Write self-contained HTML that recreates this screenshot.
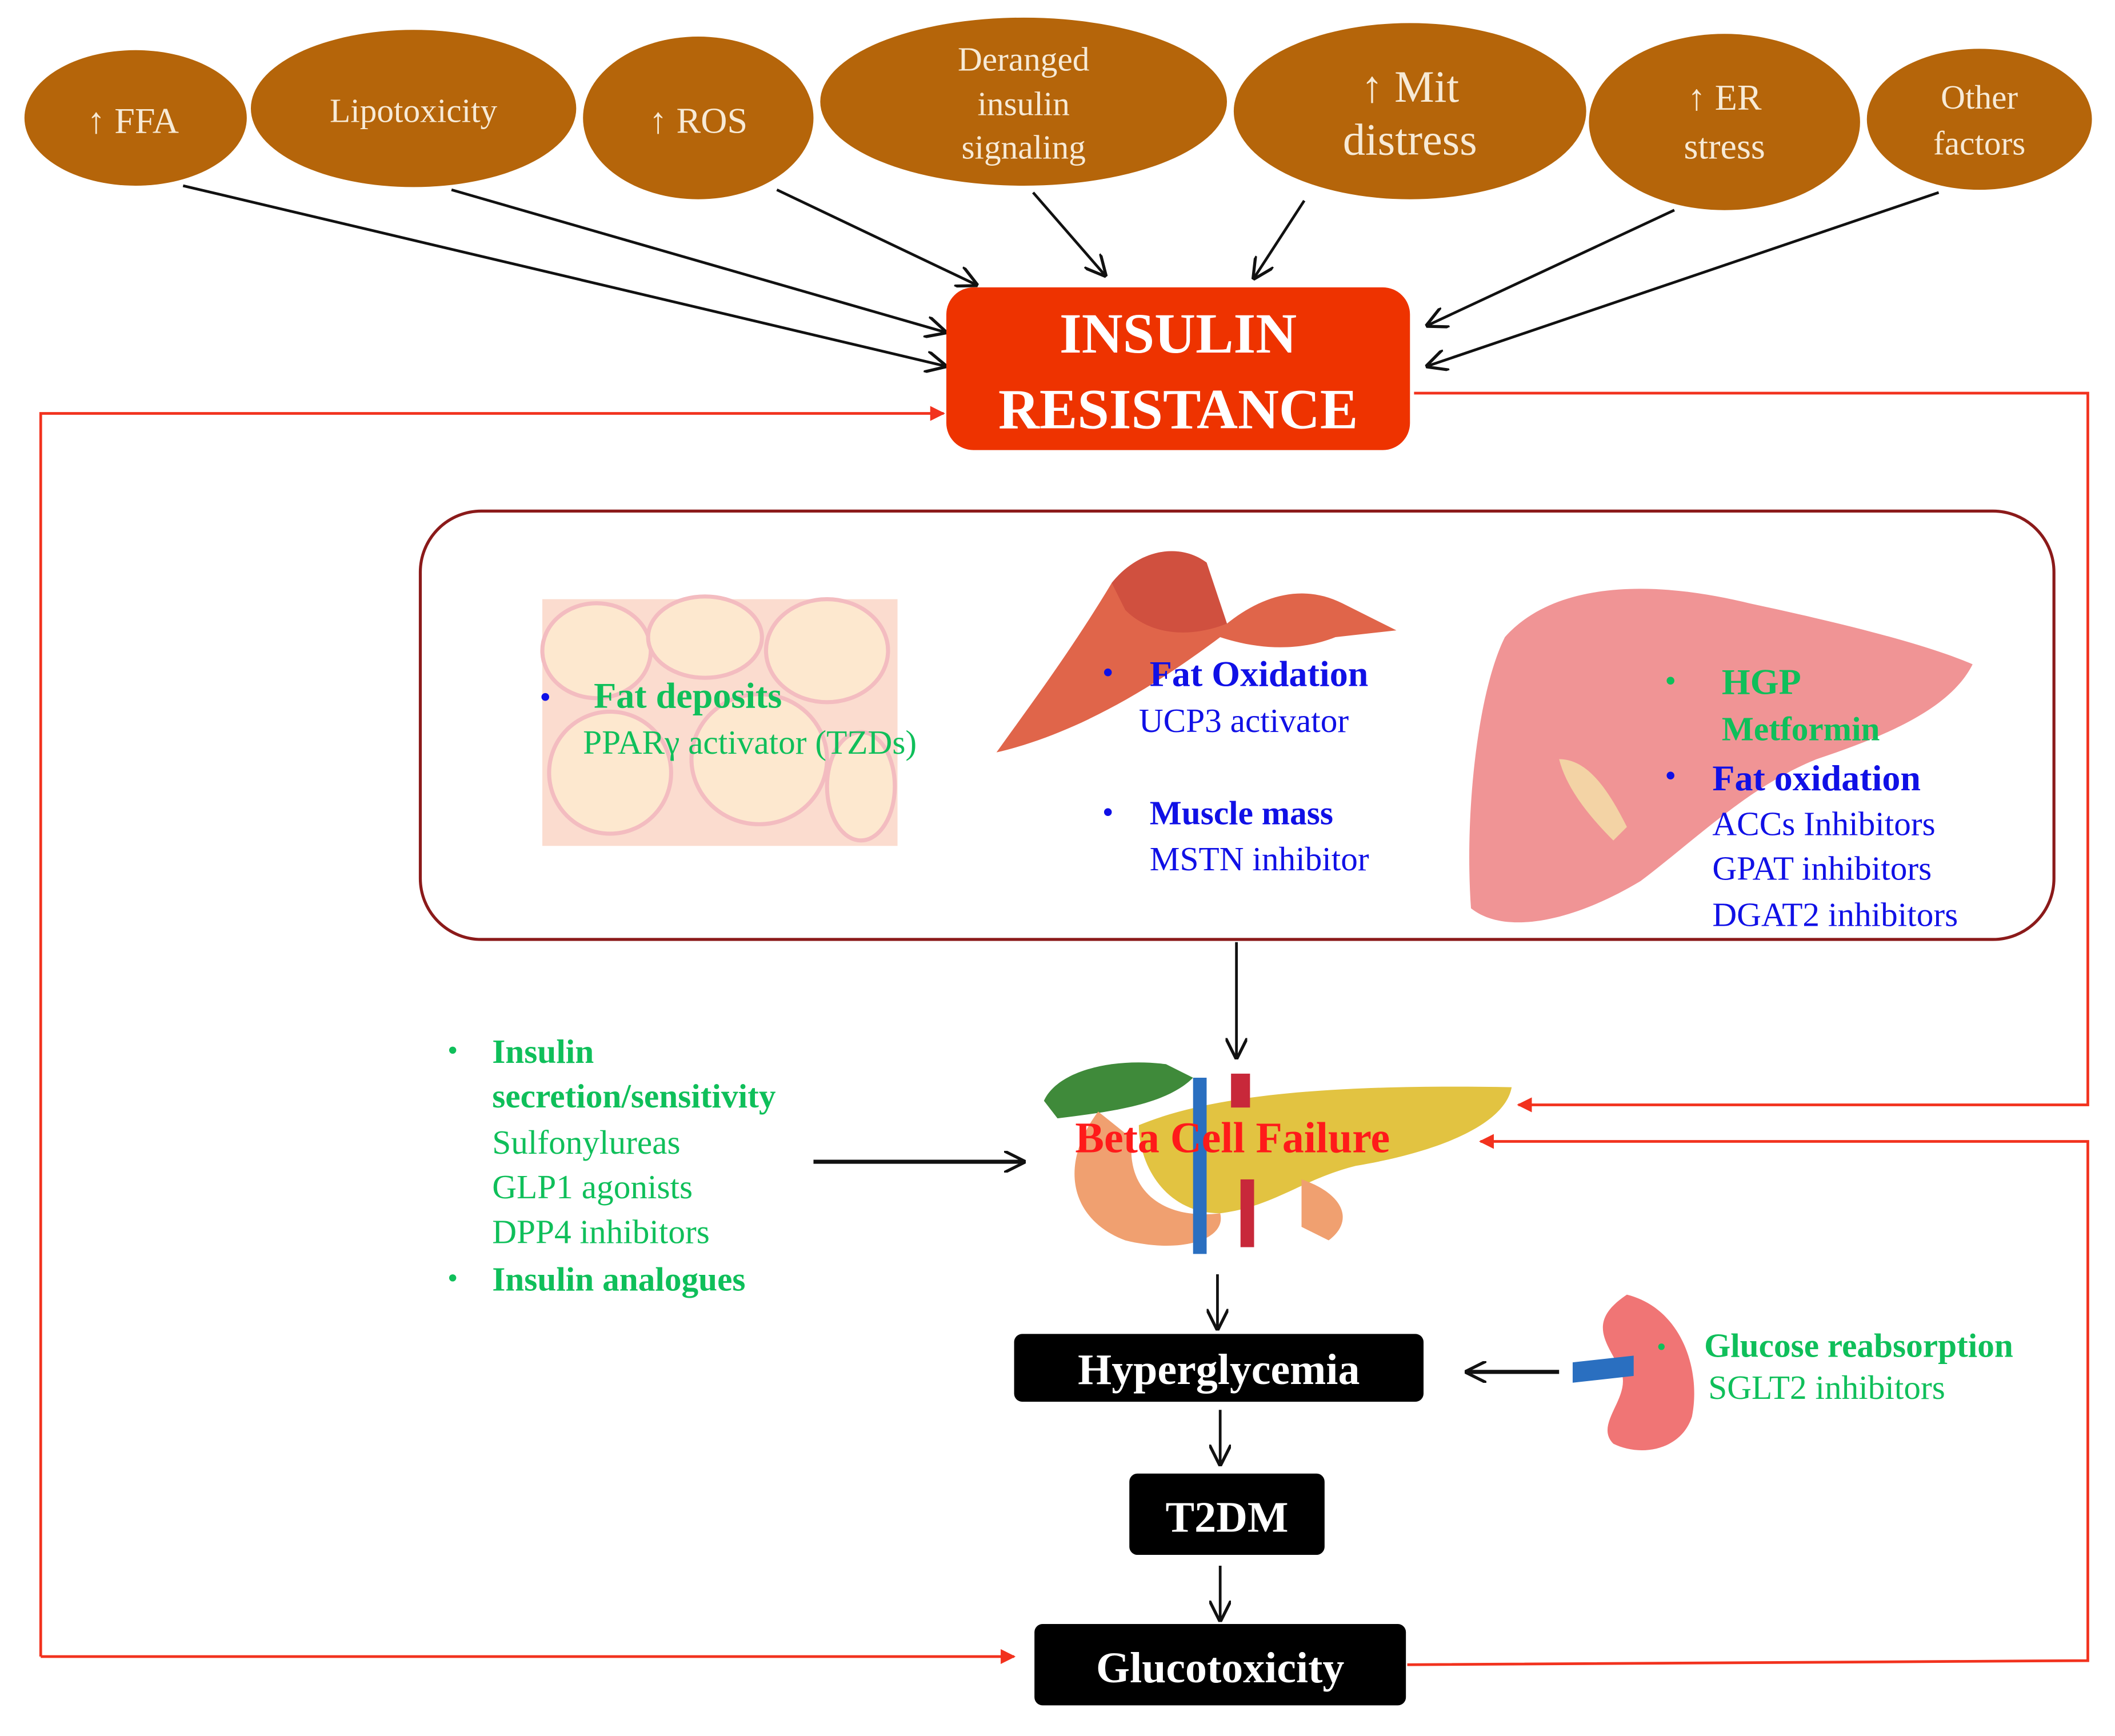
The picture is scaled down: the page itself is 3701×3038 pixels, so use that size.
<!DOCTYPE html>
<html><head><meta charset="utf-8"><style>
html,body{margin:0;padding:0;background:#fff}
svg{display:block}
text{font-family:"Liberation Serif",serif}
.e{fill:#f7ead6;font-size:27px;text-anchor:middle}
.g{fill:#0fbf5a;font-weight:bold}
.b{fill:#1010e6;font-weight:bold}
.bn{fill:#1010e6}
.gn{fill:#0fbf5a}
</style></head><body>
<svg width="3701" height="3038" viewBox="0 0 1560 1280.6" xmlns="http://www.w3.org/2000/svg">
<defs>
<marker id="ak" viewBox="0 0 10 10" refX="9" refY="5" markerWidth="9" markerHeight="9" orient="auto" markerUnits="userSpaceOnUse"><path d="M0,0 L10,5 L0,10" fill="none" stroke="#111" stroke-width="1.6"/></marker>
<marker id="ak2" viewBox="0 0 10 10" refX="9" refY="5" markerWidth="16" markerHeight="16" orient="auto" markerUnits="userSpaceOnUse"><path d="M0,0 L10,5 L0,10" fill="none" stroke="#111" stroke-width="1.4"/></marker>
<marker id="ar" viewBox="0 0 10 10" refX="9" refY="5" markerWidth="11" markerHeight="11" orient="auto" markerUnits="userSpaceOnUse"><path d="M0,0 L10,5 L0,10 z" fill="#f2321e"/></marker>
</defs>
<!-- ellipses -->
<g fill="#b5650a">
<ellipse cx="100" cy="87" rx="82" ry="50"/>
<ellipse cx="305" cy="80" rx="120" ry="58"/>
<ellipse cx="515" cy="87" rx="85" ry="60"/>
<ellipse cx="755" cy="75" rx="150" ry="62"/>
<ellipse cx="1040" cy="82" rx="130" ry="65"/>
<ellipse cx="1272" cy="90" rx="100" ry="65"/>
<ellipse cx="1460" cy="88" rx="83" ry="52"/>
</g>
<text class="e" x="98" y="98">↑ FFA</text>
<text class="e" x="305" y="90" style="font-size:25px">Lipotoxicity</text>
<text class="e" x="515" y="98">↑ ROS</text>
<text class="e" x="755" y="52" style="font-size:25px">Deranged</text>
<text class="e" x="755" y="85" style="font-size:25px">insulin</text>
<text class="e" x="755" y="117" style="font-size:25px">signaling</text>
<text class="e" x="1040" y="75" style="font-size:33px">↑ Mit</text>
<text class="e" x="1040" y="114" style="font-size:33px">distress</text>
<text class="e" x="1272" y="81">↑ ER</text>
<text class="e" x="1272" y="117">stress</text>
<text class="e" x="1460" y="80" style="font-size:25px">Other</text>
<text class="e" x="1460" y="114" style="font-size:25px">factors</text>
<!-- arrows to IR -->
<g stroke="#111" stroke-width="2" fill="none" marker-end="url(#ak2)">
<line x1="135" y1="137" x2="697" y2="270"/>
<line x1="333" y1="140" x2="697" y2="245"/>
<line x1="573" y1="140" x2="720" y2="210"/>
<line x1="762" y1="142" x2="815" y2="203"/>
<line x1="962" y1="148" x2="925" y2="205"/>
<line x1="1235" y1="155" x2="1053" y2="240"/>
<line x1="1430" y1="142" x2="1053" y2="270"/>
</g>
<!-- red feedback lines -->
<g stroke="#f2321e" stroke-width="2" fill="none">
<polyline points="1043,290 1540,290 1540,815 1120,815" marker-end="url(#ar)"/>
<polyline points="30,1222 30,305 696,305" marker-end="url(#ar)"/>
<line x1="30" y1="1222" x2="748" y2="1222" marker-end="url(#ar)"/>
<polyline points="1038,1228 1540,1225 1540,842 1092,842" marker-end="url(#ar)"/>
</g>
<!-- IR box -->
<rect x="698" y="212" width="342" height="120" rx="20" fill="#ee3300"/>
<text x="869" y="260" text-anchor="middle" fill="#fff" font-weight="bold" font-size="42">INSULIN</text>
<text x="869" y="316" text-anchor="middle" fill="#fff" font-weight="bold" font-size="42">RESISTANCE</text>
<!-- organ box -->
<rect x="310" y="377" width="1205" height="316" rx="45" fill="none" stroke="#8b1a1a" stroke-width="2.2"/>
<!-- fat cells -->
<rect x="400" y="442" width="262" height="182" fill="#fbdccf"/>
<g fill="#fde8cf" stroke="#f3bcc0" stroke-width="3">
<ellipse cx="440" cy="480" rx="40" ry="35"/><ellipse cx="520" cy="470" rx="42" ry="30"/><ellipse cx="610" cy="480" rx="45" ry="38"/>
<ellipse cx="450" cy="570" rx="45" ry="45"/><ellipse cx="560" cy="560" rx="50" ry="48"/><ellipse cx="635" cy="580" rx="25" ry="40"/>
</g>
<!-- muscle -->
<path d="M735,555 C760,520 790,480 820,430 C840,405 870,400 890,415 L905,460 C930,440 960,430 990,445 L1030,465 L985,470 C960,480 930,480 900,470 C860,500 800,540 735,555 Z" fill="#e0654a"/>
<path d="M820,430 C840,405 870,400 890,415 L905,460 C880,470 850,470 830,450 Z" fill="#c9473a" opacity=".7"/>
<!-- liver -->
<path d="M1110,470 C1150,425 1230,430 1290,445 C1360,460 1420,475 1455,490 C1440,520 1400,540 1340,560 C1290,580 1250,620 1210,650 C1160,680 1110,690 1085,670 C1080,600 1090,510 1110,470 Z" fill="#f09495"/>
<path d="M1150,560 C1170,560 1185,580 1200,610 L1190,620 C1170,600 1155,580 1150,560 Z" fill="#f3d3a5"/>
<!-- organ texts -->
<text x="398" y="522" class="bn" font-size="24">•</text>
<text x="438" y="522" class="g" font-size="27">Fat deposits</text>
<text x="430" y="556" class="gn" font-size="25">PPARγ  activator (TZDs)</text>
<text x="813" y="504" class="bn" font-size="24">•</text>
<text x="848" y="506" class="b" font-size="27">Fat Oxidation</text>
<text x="840" y="540" class="bn" font-size="25">UCP3 activator</text>
<text x="813" y="607" class="bn" font-size="24">•</text>
<text x="848" y="608" class="b" font-size="25">Muscle mass</text>
<text x="848" y="642" class="bn" font-size="25">MSTN inhibitor</text>
<text x="1228" y="510" class="gn" font-size="24">•</text>
<text x="1270" y="512" class="g" font-size="27">HGP</text>
<text x="1270" y="546" class="g" font-size="25">Metformin</text>
<text x="1228" y="580" class="bn" font-size="24">•</text>
<text x="1263" y="583" class="b" font-size="27">Fat oxidation</text>
<text x="1263" y="616" class="bn" font-size="25">ACCs Inhibitors</text>
<text x="1263" y="649" class="bn" font-size="25">GPAT inhibitors</text>
<text x="1263" y="683" class="bn" font-size="25">DGAT2 inhibitors</text>
<line x1="912" y1="695" x2="912" y2="780" stroke="#111" stroke-width="2" marker-end="url(#ak2)"/>
<!-- pancreas -->
<path d="M770,812 C780,790 820,780 860,785 L880,795 C860,815 820,820 780,825 Z" fill="#3f8a3a"/>
<path d="M810,820 C780,860 790,900 830,915 C870,925 905,915 900,895 C860,900 830,880 835,840 Z" fill="#f0a070"/>
<path d="M840,830 C900,805 1000,800 1115,802 C1110,830 1060,850 1000,860 C960,870 940,890 900,895 C860,895 840,860 840,830 Z" fill="#e2c341"/>
<path d="M960,870 C990,880 1000,900 980,915 L960,905 Z" fill="#f0a070"/>
<rect x="880" y="795" width="10" height="130" fill="#2a6fc0"/>
<rect x="908" y="792" width="14" height="25" fill="#c8283a"/>
<rect x="915" y="870" width="10" height="50" fill="#c8283a"/>
<text x="793" y="850" fill="#ff1a1a" font-weight="bold" font-size="32">Beta  Cell Failure</text>
<!-- left drug text -->
<g font-size="25">
<text x="330" y="782" class="gn" font-size="22">•</text>
<text x="363" y="784" class="g">Insulin</text>
<text x="363" y="817" class="g">secretion/sensitivity</text>
<text x="363" y="851" class="gn">Sulfonylureas</text>
<text x="363" y="884" class="gn">GLP1 agonists</text>
<text x="363" y="917" class="gn">DPP4 inhibitors</text>
<text x="330" y="950" class="gn" font-size="22">•</text>
<text x="363" y="952" class="g">Insulin analogues</text>
</g>
<line x1="600" y1="857" x2="755" y2="857" stroke="#111" stroke-width="3" marker-end="url(#ak2)"/>
<!-- black boxes -->
<rect x="748" y="984" width="302" height="50" rx="6" fill="#000"/>
<text x="899" y="1021" text-anchor="middle" fill="#fff" font-weight="bold" font-size="32">Hyperglycemia</text>
<rect x="833" y="1087" width="144" height="60" rx="6" fill="#000"/>
<text x="905" y="1130" text-anchor="middle" fill="#fff" font-weight="bold" font-size="32">T2DM</text>
<rect x="763" y="1198" width="274" height="60" rx="6" fill="#000"/>
<text x="900" y="1241" text-anchor="middle" fill="#fff" font-weight="bold" font-size="32">Glucotoxicity</text>
<g stroke="#111" stroke-width="2" fill="none" marker-end="url(#ak2)">
<line x1="898" y1="940" x2="898" y2="980"/>
<line x1="900" y1="1040" x2="900" y2="1080"/>
<line x1="900" y1="1155" x2="900" y2="1195"/>
<line x1="1150" y1="1012" x2="1082" y2="1012" stroke-width="3"/>
</g>
<!-- kidney -->
<path d="M1200,955 C1240,965 1255,1010 1248,1045 C1240,1070 1210,1075 1190,1065 C1175,1050 1205,1030 1195,1010 C1185,990 1170,975 1200,955 Z" fill="#f07575"/>
<path d="M1160,1005 L1205,1000 L1205,1015 L1160,1020 Z" fill="#2a6fc0"/>
<text x="1222" y="1000" class="gn" font-size="20">•</text>
<text x="1257" y="1001" class="g" font-size="25">Glucose reabsorption</text>
<text x="1260" y="1032" class="gn" font-size="25">SGLT2 inhibitors</text>
</svg>
</body></html>
